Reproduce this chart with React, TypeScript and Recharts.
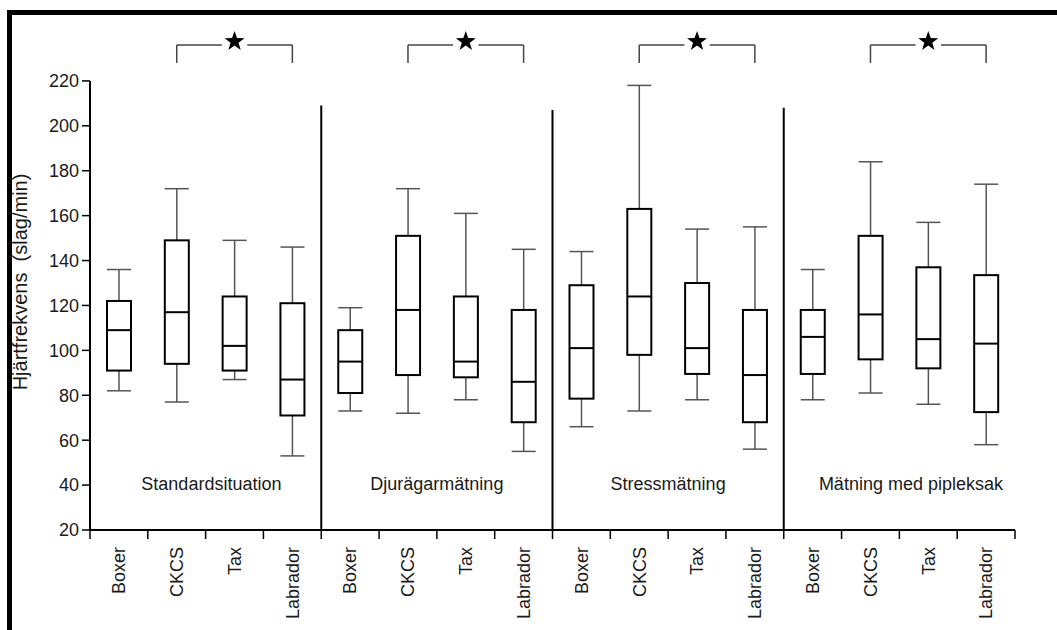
import { ComposedChart, Bar, XAxis, YAxis, ReferenceLine, ReferenceDot } from 'recharts'

const breeds = ['Boxer', 'CKCS', 'Tax', 'Labrador']
const situations = ['Standardsituation', 'Djurägarmätning', 'Stressmätning', 'Mätning med pipleksak']

// 16 boxes: 4 situations x 4 breeds
const whiskerLow = [82, 77, 87, 53, 73, 72, 78, 55, 66, 73, 78, 56, 78, 81, 76, 58]
const q1 = [91, 94, 91, 71, 81, 89, 88, 68, 78.5, 98, 89.5, 68, 89.5, 96, 92, 72.5]
const median = [109, 117, 102, 87, 95, 118, 95, 86, 101, 124, 101, 89, 106, 116, 105, 103]
const q3 = [122, 149, 124, 121, 109, 151, 124, 118, 129, 163, 130, 118, 118, 151, 137, 133.5]
const whiskerHigh = [136, 172, 149, 146, 119, 172, 161, 145, 144, 218, 154, 155, 136, 184, 157, 174]

const yTicks = [20, 40, 60, 80, 100, 120, 140, 160, 180, 200, 220]
const separatorTops = [209, 207, 208]

const data = whiskerLow.map((lo, i) => ({
  pos: i + 0.5,
  breed: breeds[i % 4],
  range: [lo, whiskerHigh[i]],
  q1: q1[i],
  median: median[i],
  q3: q3[i],
}))

const xTicks = Array.from({ length: 33 }, (_, k) => k / 2)
const labelPos = [2.1, 6, 10, 14.2]

const FONT = "'Liberation Sans', Arial, Helvetica, sans-serif"

const BoxShape = (props: any) => {
  const { x, y, width, height, payload } = props
  const [lo, hi] = payload.range
  const top = Math.min(y, y + height)
  const bottom = Math.max(y, y + height)
  const k = (bottom - top) / (hi - lo)
  const py = (v: number) => bottom - (v - lo) * k
  const cx = x + width / 2
  const wc = '#555'
  return (
    <g>
      <line x1={cx} x2={cx} y1={py(hi)} y2={py(payload.q3)} stroke={wc} strokeWidth={1.5} />
      <line x1={cx} x2={cx} y1={py(payload.q1)} y2={py(lo)} stroke={wc} strokeWidth={1.5} />
      <line x1={x} x2={x + width} y1={py(hi)} y2={py(hi)} stroke={wc} strokeWidth={1.5} />
      <line x1={x} x2={x + width} y1={py(lo)} y2={py(lo)} stroke={wc} strokeWidth={1.5} />
      <rect
        x={x}
        y={py(payload.q3)}
        width={width}
        height={py(payload.q1) - py(payload.q3)}
        fill="#fff"
        stroke="#000"
        strokeWidth={2}
      />
      <line x1={x} x2={x + width} y1={py(payload.median)} y2={py(payload.median)} stroke="#000" strokeWidth={2} />
    </g>
  )
}

const XTick = (props: any) => {
  const { x, y, payload } = props
  const v = payload.value
  if (Number.isInteger(v)) {
    return <line x1={x} x2={x} y1={y} y2={y + 9} stroke="#000" strokeWidth={1.5} />
  }
  return (
    <text
      x={x}
      y={y + 17}
      transform={`rotate(-90 ${x} ${y + 17})`}
      textAnchor="end"
      dy="0.35em"
      fontSize={18}
      fill="#1a1a1a"
      fontFamily={FONT}
    >
      {breeds[Math.floor(v) % 4]}
    </text>
  )
}

const starPoints = (cx: number, cy: number, r: number) => {
  const pts: string[] = []
  for (let i = 0; i < 10; i++) {
    const rad = i % 2 === 0 ? r : r * 0.4
    const a = -Math.PI / 2 + (i * Math.PI) / 5
    pts.push(`${cx + rad * Math.cos(a)},${cy + rad * Math.sin(a)}`)
  }
  return pts.join(' ')
}

export default function App() {
  return (
    <div style={{ position: 'relative', width: 1057, height: 630, fontFamily: FONT, background: '#fff' }}>
      <style>{`body{margin:0;overflow:hidden;background:#fff}`}</style>
      <ComposedChart
        width={1057}
        height={630}
        data={data}
        margin={{ top: 36, right: 42, bottom: 10, left: 30 }}
      >
        <XAxis
          type="number"
          dataKey="pos"
          domain={[0, 16]}
          ticks={xTicks}
          interval={0}
          tickLine={false}
          tickSize={0}
          tickMargin={0}
          height={90}
          axisLine={{ stroke: '#000', strokeWidth: 2 }}
          tick={<XTick />}
        />
        <YAxis
          type="number"
          domain={[20, 240]}
          ticks={yTicks}
          interval={0}
          width={60}
          axisLine={false}
          tickLine={{ stroke: '#000', strokeWidth: 1.5 }}
          tickSize={8}
          tickMargin={3}
          tick={{ fontSize: 18, fill: '#1a1a1a', fontFamily: FONT }}
        />
        <ReferenceLine segment={[{ x: 0, y: 20 }, { x: 0, y: 220 }]} stroke="#000" strokeWidth={2} />
        {separatorTops.map((t, i) => (
          <ReferenceLine
            key={`sep${i}`}
            segment={[{ x: (i + 1) * 4, y: 20 }, { x: (i + 1) * 4, y: t }]}
            stroke="#000"
            strokeWidth={2}
          />
        ))}
        {situations.map((s, g) => (
          <ReferenceLine
            key={`bl${g}`}
            segment={[{ x: g * 4 + 1.5, y: 228 }, { x: g * 4 + 1.5, y: 236 }]}
            stroke="#444"
            strokeWidth={1.5}
          />
        ))}
        {situations.map((s, g) => (
          <ReferenceLine
            key={`br${g}`}
            segment={[{ x: g * 4 + 3.5, y: 228 }, { x: g * 4 + 3.5, y: 236 }]}
            stroke="#444"
            strokeWidth={1.5}
          />
        ))}
        {situations.map((s, g) => (
          <ReferenceLine
            key={`bh1${g}`}
            segment={[{ x: g * 4 + 1.5, y: 236 }, { x: g * 4 + 2.28, y: 236 }]}
            stroke="#444"
            strokeWidth={1.5}
          />
        ))}
        {situations.map((s, g) => (
          <ReferenceLine
            key={`bh2${g}`}
            segment={[{ x: g * 4 + 2.72, y: 236 }, { x: g * 4 + 3.5, y: 236 }]}
            stroke="#444"
            strokeWidth={1.5}
          />
        ))}
        {situations.map((s, g) => (
          <ReferenceDot
            key={`star${g}`}
            x={g * 4 + 2.5}
            y={237.6}
            r={0}
            shape={(p: any) => <polygon points={starPoints(p.cx, p.cy, 10.5)} fill="#000" />}
          />
        ))}
        {situations.map((s, g) => (
          <ReferenceDot
            key={`lab${g}`}
            x={labelPos[g]}
            y={40.5}
            r={0}
            shape={(p: any) => (
              <text
                x={p.cx}
                y={p.cy}
                textAnchor="middle"
                dy="0.35em"
                fontSize={18}
                fill="#1a1a1a"
                fontFamily={FONT}
              >
                {s}
              </text>
            )}
          />
        ))}
        <Bar dataKey="range" barSize={24} shape={<BoxShape />} isAnimationActive={false} />
      </ComposedChart>
      <svg width={1057} height={630} style={{ position: 'absolute', left: 0, top: 0, pointerEvents: 'none' }}>
        <text
          transform="translate(27 282) rotate(-90)"
          textAnchor="middle"
          fontSize={20}
          fill="#1a1a1a"
          fontFamily={FONT}
          xmlSpace="preserve"
        >
          {'Hjärtfrekvens  (slag/min)'}
        </text>
      </svg>
      <div style={{ position: 'absolute', left: 7, top: 10, width: 1050, height: 5, background: '#000' }} />
      <div style={{ position: 'absolute', left: 7, top: 10, width: 5, height: 620, background: '#000' }} />
    </div>
  )
}
